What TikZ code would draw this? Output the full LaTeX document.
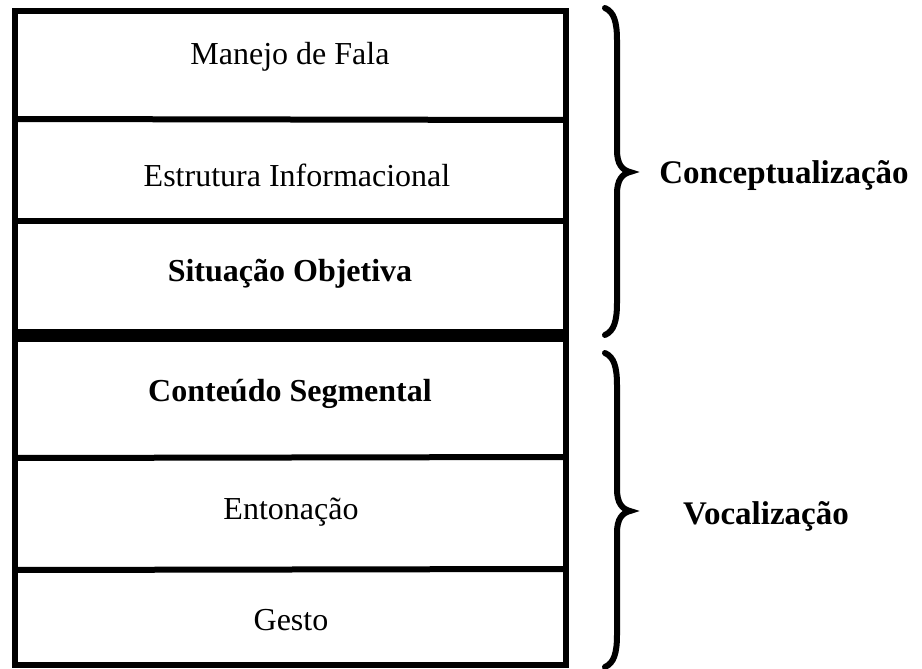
\documentclass[tikz,border=0pt]{standalone}
\usepackage{fontspec}
\setmainfont{Liberation Serif}
\begin{document}
\begin{tikzpicture}[x=1pt,y=-1pt,
  rowtext/.style={inner sep=0pt,font=\fontsize{32}{38}\selectfont},
  rowbold/.style={rowtext,font=\fontsize{32}{38}\selectfont\bfseries},
  grouplabel/.style={inner sep=0pt,font=\fontsize{33}{40}\selectfont\bfseries},
  frame/.style={line width=6pt},
  thickdiv/.style={line width=13pt},
  bracestyle/.style={line width=6pt,line cap=round}]
\useasboundingbox (0,0) rectangle (922,669);
% frame
\draw[frame] (15,11) rectangle (565.5,665);
\coordinate (d1l) at (15,119);   \coordinate (d1r) at (565.5,120);
\coordinate (d2l) at (15,221);   \coordinate (d2r) at (565.5,221);
\coordinate (d3l) at (15,335.5); \coordinate (d3r) at (565.5,335.5);
\coordinate (d4l) at (15,458);   \coordinate (d4r) at (565.5,457);
\coordinate (d5l) at (15,570);   \coordinate (d5r) at (565.5,569);
\draw[frame] (d1l) -- (d1r);
\draw[frame] (d2l) -- (d2r);
\draw[thickdiv] (d3l) -- (d3r);
\draw[frame] (d4l) -- (d4r);
\draw[frame] (d5l) -- (d5r);
% row texts
\node[rowtext] (manejo) at (290,57) {Manejo de Fala};
\node[rowtext] (estrutura) at (297,175) {Estrutura Informacional};
\node[rowbold] (situacao) at (290,274) {Situação Objetiva};
\node[rowbold] (conteudo) at (290,394) {Conteúdo Segmental};
\node[rowtext] (entonacao) at (291,512) {Entonação};
\node[rowtext] (gesto) at (291,620) {Gesto};
% braces
\draw[bracestyle] (605,8) .. controls (614,12) and (617,22) .. (617,40) -- (617,150)
  .. controls (617,164) and (622,170) .. (630,172)
  .. controls (622,174) and (617,180) .. (617,194) -- (617,303)
  .. controls (617,321) and (614,331) .. (605,335);
\draw[bracestyle] (605,353) .. controls (614,357) and (617,367) .. (617,385) -- (617,489)
  .. controls (617,503) and (622,509) .. (630,511)
  .. controls (622,513) and (617,519) .. (617,533) -- (617,635)
  .. controls (617,653) and (614,663) .. (605,667);
% group labels
\node[grouplabel] (concept) at (784,176) {Conceptualização};
\node[grouplabel] (vocal) at (766,516) {Vocalização};
\end{tikzpicture}
\end{document}
